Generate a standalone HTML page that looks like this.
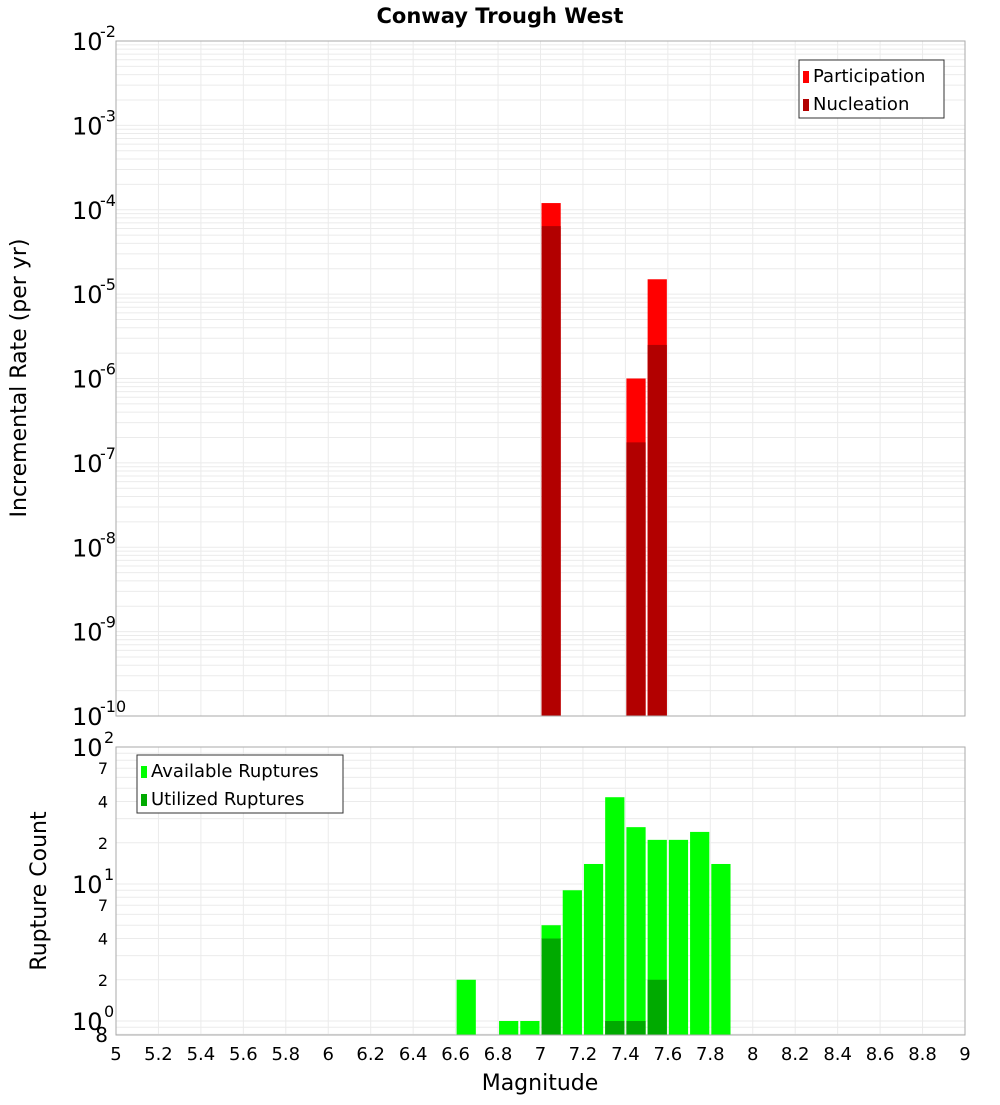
<!DOCTYPE html>
<html><head><meta charset="utf-8"><style>
body{margin:0;background:#fff;}
svg text{font-family:"DejaVu Sans","Liberation Sans",sans-serif;}
</style></head><body>
<svg id="chart" width="1000" height="1100" xmlns="http://www.w3.org/2000/svg">
<text x="500" y="23" text-anchor="middle" font-size="21" font-weight="bold">Conway Trough West</text>
<g id="topPlot"></g><g id="botPlot"></g>
<text transform="translate(26,378) rotate(-90)" text-anchor="middle" font-size="22">Incremental Rate (per yr)</text>
<text transform="translate(46,891) rotate(-90)" text-anchor="middle" font-size="22">Rupture Count</text>
<text x="540" y="1090" text-anchor="middle" font-size="22">Magnitude</text>
</svg>
<script>
const rateMags=[7.05,7.45,7.55];
const participation=[1.2e-4,1.0e-6,1.5e-5];
const nucleation=[6.4e-5,1.75e-7,2.5e-6];
const countMags=[6.65,6.85,6.95,7.05,7.15,7.25,7.35,7.45,7.55,7.65,7.75,7.85];
const available=[2,1,1,5,9,14,43,26,21,21,24,14];
const utilizedMags=[7.05,7.35,7.45,7.55];
const utilized=[4,1,1,2];
const xTicks=[5,5.2,5.4,5.6,5.8,6,6.2,6.4,6.6,6.8,7,7.2,7.4,7.6,7.8,8,8.2,8.4,8.6,8.8,9];

const NS='http://www.w3.org/2000/svg';
const X0=116,X1=965;
const xs=m=>X0+(m-5)/4*(X1-X0);
function mk(p,t,a){const e=document.createElementNS(NS,t);for(const k in a)e.setAttribute(k,a[k]);p.appendChild(e);return e;}
const gTop=document.getElementById('topPlot'),gBot=document.getElementById('botPlot');
const TY0=41,TY1=716;
const yT=v=>TY0+(-2-Math.log10(v))*(TY1-TY0)/8;
const yB=v=>747+(2-Math.log10(v))*137;
function frame(g,y0,y1,yf,lo,hi){
  mk(g,'rect',{x:X0,y:y0,width:X1-X0,height:y1-y0,fill:'#fff'});
  for(const t of xTicks){mk(g,'line',{x1:xs(t),x2:xs(t),y1:y0,y2:y1,stroke:'#ebebeb'});}
  for(let e=lo;e<hi;e++)for(let k=1;k<10;k++){const v=k*Math.pow(10,e);const yy=yf(v);if(yy<y0||yy>y1)continue;
    mk(g,'line',{x1:X0,x2:X1,y1:yy,y2:yy,stroke:'#ebebeb'});}
}
frame(gTop,TY0,TY1,yT,-10,-2);
frame(gBot,747,1035,yB,-1,2);
function bar(g,m,v,yf,ybase,col,name){
  const r=mk(g,'rect',{x:xs(m-0.05)+1,y:yf(v),width:xs(m+0.05)-xs(m-0.05)-2,height:ybase-yf(v),fill:col});
  
  
}
rateMags.forEach((m,i)=>bar(gTop,m,participation[i],yT,TY1,'#ff0000','participation-bar'));
rateMags.forEach((m,i)=>bar(gTop,m,nucleation[i],yT,TY1,'#b20000','nucleation-bar'));
countMags.forEach((m,i)=>bar(gBot,m,available[i],yB,1035,'#00ff00','available-bar'));
utilizedMags.forEach((m,i)=>bar(gBot,m,utilized[i],yB,1035,'#00aa00','utilized-bar'));
mk(gTop,'rect',{x:X0,y:TY0,width:X1-X0,height:TY1-TY0,fill:'none',stroke:'#aaa'});
mk(gBot,'rect',{x:X0,y:747,width:X1-X0,height:288,fill:'none',stroke:'#aaa'});
for(let e=-2;e>=-10;e--){const yy=yT(Math.pow(10,e));
  const t=mk(gTop,'text',{x:72,y:yy+9,'font-size':24});t.textContent='10';
  const s=mk(gTop,'text',{x:100,y:yy-4,'font-size':16});s.textContent=String(e);}
for(let e=0;e<=2;e++){const yy=yB(Math.pow(10,e));
  const t=mk(gBot,'text',{x:72,y:yy+9,'font-size':24});t.textContent='10';
  const s=mk(gBot,'text',{x:104,y:yy-4,'font-size':16});s.textContent=String(e);}
[[7,10],[4,10],[2,10],[7,1],[4,1],[2,1]].forEach(([k,d])=>{const t=mk(gBot,'text',{x:108,y:yB(k*d)+6,'font-size':16,'text-anchor':'end'});t.textContent=k;});
{const t=mk(gBot,'text',{x:108,y:1042,'font-size':20,'text-anchor':'end'});t.textContent='8';}
for(const v of xTicks){const t=mk(gBot,'text',{x:xs(v),y:1060,'font-size':18,'text-anchor':'middle'});t.textContent=String(v);}
function legend(g,lx,ly,w,items,name){
  const lg=mk(g,'g',{});
  
  
  mk(lg,'rect',{x:lx,y:ly,width:w,height:58,fill:'#fff',stroke:'#333'});
  items.forEach(([c,l],i)=>{mk(lg,'rect',{x:lx+4,y:ly+11+i*28,width:6,height:12,fill:c});
    const t=mk(lg,'text',{x:lx+14,y:ly+22+i*28,'font-size':18});t.textContent=l;});
}
legend(gTop,799,60,145,[['#ff0000','Participation'],['#b20000','Nucleation']],'rate-legend');
legend(gBot,137,755,206,[['#00ff00','Available Ruptures'],['#00aa00','Utilized Ruptures']],'count-legend');
</script>
</body></html>
